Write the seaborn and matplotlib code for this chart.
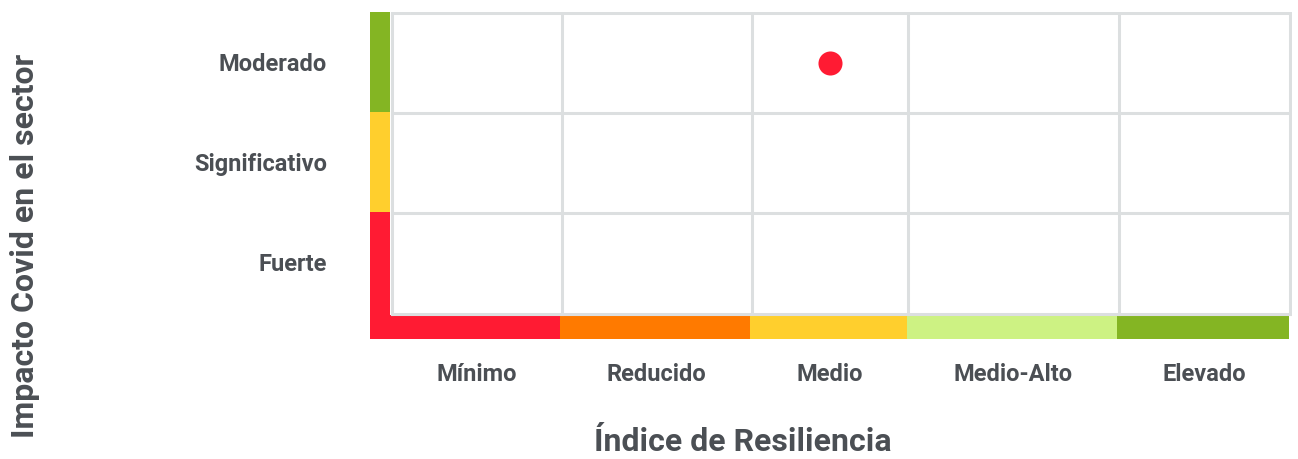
import numpy as np
import pandas as pd
import matplotlib.pyplot as plt
import seaborn as sns

# categorias de los ejes
resiliencia = ["Mínimo", "Reducido", "Medio", "Medio-Alto", "Elevado"]
impacto = ["Fuerte", "Significativo", "Moderado"]  # de abajo a arriba

# posicion del sector en la matriz
punto_resiliencia = ["Medio"]
punto_impacto = ["Moderado"]

# layout (px en la figura de 1298x459)
COL_W = [170, 190, 157, 210, 171.5]
ROW_H = 100
GRID = "#dcdfe0"
TEXT = "#4b4f54"
COL_COLORS = ["#ff1b33", "#ff7a00", "#ffcf2d", "#cdf283", "#84b523"]
ROW_COLORS = ["#ff1b33", "#ffcf2d", "#84b523"]

sns.set_theme(style="white")
plt.rcParams["font.family"] = ["Roboto", "DejaVu Sans"]

W, H = 1298, 459
fig = plt.figure(figsize=(W / 100, H / 100), dpi=100)

x_edges = np.concatenate([[0], np.cumsum(COL_W)])
y_edges = np.arange(len(impacto) + 1) * ROW_H
x_centers = (x_edges[:-1] + x_edges[1:]) / 2
y_centers = (y_edges[:-1] + y_edges[1:]) / 2

# axes que cubre la matriz + barras de color (1 unidad = 1 px)
x0, x1 = -21.5, x_edges[-1] + 2
y0, y1 = -25.5, y_edges[-1] + 1.5
gx, gy = 391.5, 313.5  # origen de la rejilla en px
ax = fig.add_axes([(gx + x0) / W, (H - gy + y0) / H, (x1 - x0) / W, (y1 - y0) / H])
ax.set_xlim(x0, x1)
ax.set_ylim(y0, y1)
for s in ax.spines.values():
    s.set_visible(False)

# barra inferior de color
ax.bar(x_edges[:-1] - 1.5, 24, width=COL_W, bottom=-25.5, align="edge",
       color=COL_COLORS, linewidth=0, zorder=1)
# barra lateral de color (la roja baja hasta el final)
lefts = y_edges[:-1] + 1.5
heights = [ROW_H] * len(impacto)
lefts[0] = -25.5
heights[0] = y_edges[1] + 1.5 + 25.5
ax.barh(lefts, 20, height=heights, left=-21.5, align="edge",
        color=ROW_COLORS, linewidth=0, zorder=1)

# rejilla
ax.hlines(y_edges, 0, x_edges[-1], color=GRID, lw=2.2, zorder=2, capstyle="projecting")
ax.vlines(x_edges, 0, y_edges[-1], color=GRID, lw=2.2, zorder=2, capstyle="projecting")

# punto
df = pd.DataFrame({
    "x": [x_centers[resiliencia.index(r)] for r in punto_resiliencia],
    "y": [y_centers[impacto.index(i)] for i in punto_impacto],
})
sns.scatterplot(data=df, x="x", y="y", ax=ax, color="#ff1b33", s=300,
                linewidth=0, zorder=3, legend=False)

ax.set_xticks(x_centers, resiliencia)
ax.set_yticks(y_centers + 1.5, impacto)
ax.tick_params(axis="x", length=0, pad=17, labelsize=17, labelcolor=TEXT)
ax.tick_params(axis="y", length=0, pad=31, labelsize=17, labelcolor=TEXT)
for lbl in ax.get_xticklabels() + ax.get_yticklabels():
    lbl.set_fontweight("bold")
ax.set_xlabel("")
ax.set_ylabel("")

fig.text(743 / W, 1 - 442 / H, "Índice de Resiliencia", ha="center", va="center",
         fontsize=23, fontweight="bold", color=TEXT)
fig.text(25 / W, 1 - 246 / H, "Impacto Covid en el sector", ha="center", va="center",
         rotation=90, fontsize=23, fontweight="bold", color=TEXT)

fig.savefig("out.png", dpi=100)
